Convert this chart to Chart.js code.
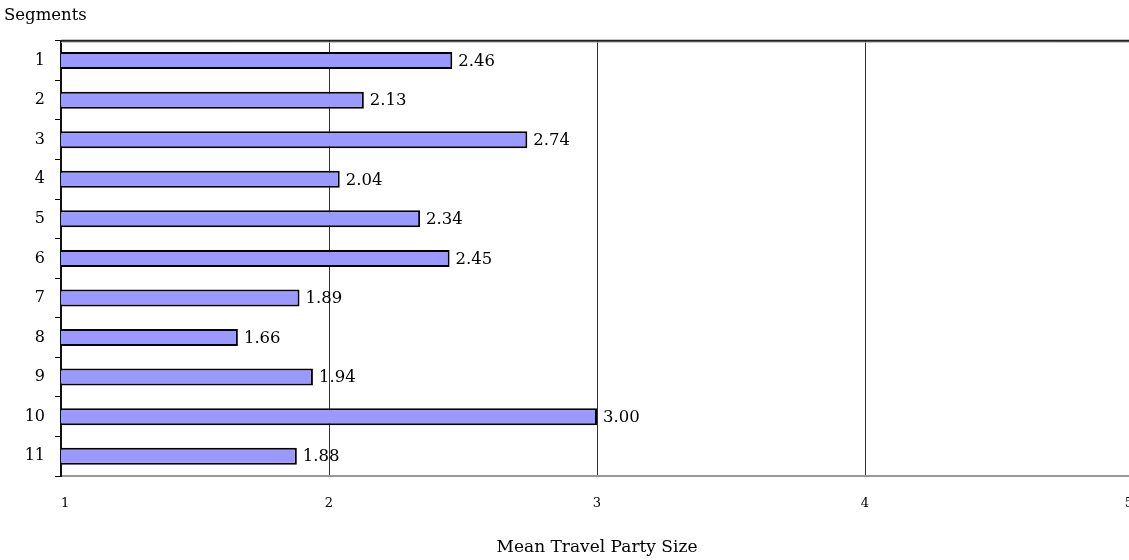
<!DOCTYPE html>
<html>
<head>
<meta charset="utf-8">
<script src="https://cdn.jsdelivr.net/npm/chart.js@4/dist/chart.umd.min.js"></script>
<style>
  html, body { margin: 0; padding: 0; background: #fff; overflow: hidden; }
  #wrap { width: 1153px; height: 560px; }
</style>
</head>
<body>
<div id="wrap"><canvas id="c" width="1153" height="560"></canvas></div>
<script>
// Mean travel party size per segment
const segments = ['1', '2', '3', '4', '5', '6', '7', '8', '9', '10', '11'];
const meanPartySize = [2.46, 2.13, 2.74, 2.04, 2.34, 2.45, 1.89, 1.66, 1.94, 3.00, 1.88];
const xTicks = [1, 2, 3, 4, 5];

const serif = '"DejaVu Serif", "Liberation Serif", serif';

// Value labels just right of each bar end
const valueLabels = {
  id: 'valueLabels',
  afterDatasetsDraw(chart) {
    const ctx = chart.ctx;
    const meta = chart.getDatasetMeta(0);
    ctx.save();
    ctx.font = '16.5px ' + serif;
    ctx.fillStyle = '#000';
    ctx.textAlign = 'left';
    ctx.textBaseline = 'middle';
    meta.data.forEach((bar, i) => {
      ctx.fillText(meanPartySize[i].toFixed(2), bar.x + 6, bar.y + 1);
    });
    ctx.restore();
  }
};

// Dark rule along the top of the plot area
const topRule = {
  id: 'topRule',
  afterDraw(chart) {
    const { ctx, chartArea } = chart;
    ctx.save();
    ctx.strokeStyle = '#bbb';
    ctx.lineWidth = 1;
    ctx.beginPath();
    ctx.moveTo(chartArea.left, chartArea.top + 1.5);
    ctx.lineTo(chart.width, chartArea.top + 1.5);
    ctx.stroke();
    ctx.strokeStyle = '#222';
    ctx.lineWidth = 2;
    ctx.beginPath();
    ctx.moveTo(chartArea.left, chartArea.top);
    ctx.lineTo(chart.width, chartArea.top);
    ctx.stroke();
    ctx.restore();
  }
};

new Chart(document.getElementById('c'), {
  type: 'bar',
  data: {
    labels: segments,
    datasets: [{
      data: meanPartySize,
      backgroundColor: '#9999ff',
      borderColor: '#000',
      borderWidth: 2,
      borderSkipped: false,
      categoryPercentage: 1.0,
      barPercentage: 0.43
    }]
  },
  options: {
    indexAxis: 'y',
    responsive: false,
    animation: false,
    layout: { padding: { left: 4, right: 11, top: 0, bottom: 0 } },
    plugins: {
      legend: { display: false },
      tooltip: { enabled: false },
      title: {
        display: true,
        text: 'Segments',
        align: 'start',
        color: '#000',
        font: { family: serif, size: 16.5, weight: 'normal' },
        padding: { top: 6, bottom: 15 }
      }
    },
    scales: {
      x: {
        type: 'linear',
        position: 'bottom',
        min: 1,
        max: 5,
        afterBuildTicks(scale) { scale.ticks = xTicks.map(v => ({ value: v })); },
        afterFit(scale) { scale.height = 84; },
        grid: { color: '#333', lineWidth: 1, drawTicks: false },
        border: { display: true, color: '#999', width: 2 },
        ticks: {
          color: '#000',
          padding: 20,
          align: 'inner',
          font: { family: serif, size: 13 }
        },
        title: {
          display: true,
          text: 'Mean Travel Party Size',
          color: '#000',
          font: { family: serif, size: 17 },
          padding: { top: 0, bottom: 2 }
        }
      },
      y: {
        type: 'category',
        afterFit(scale) { scale.width = 57; },
        grid: {
          display: true,
          offset: true,
          drawOnChartArea: false,
          drawTicks: true,
          tickLength: 6,
          color: '#000'
        },
        border: { display: true, color: '#111', width: 2 },
        ticks: {
          color: '#000',
          padding: 10,
          font: { family: serif, size: 16 }
        }
      }
    }
  },
  plugins: [valueLabels, topRule]
});
</script>
</body>
</html>
